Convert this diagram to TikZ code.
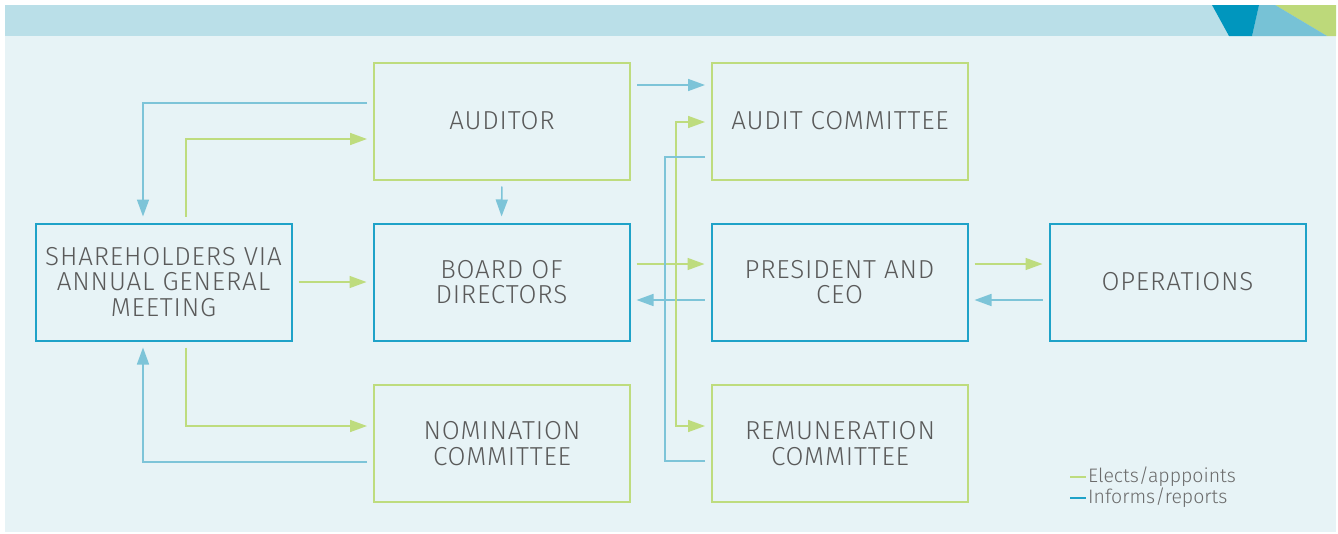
\documentclass[tikz,border=0pt]{standalone}
\usepackage{fontspec}
\setmainfont{Fira Sans Light}[LetterSpace=3.2]
\newfontfamily\legfont{Fira Sans Light}
\usetikzlibrary{arrows.meta,calc}
\definecolor{panelbg}{HTML}{E7F3F6}
\definecolor{barbg}{HTML}{BADFE8}
\definecolor{gline}{HTML}{BEDC7E}
\definecolor{bline}{HTML}{7DC4D8}
\definecolor{bbox}{HTML}{1FA2C8}
\definecolor{txt}{HTML}{5A5A5A}
\definecolor{darkblue}{HTML}{0096BE}
\definecolor{midblue}{HTML}{77C2D6}
\definecolor{greentri}{HTML}{BDD97A}
\tikzset{
  box/.style={minimum width=256pt, minimum height=117pt, inner sep=0pt, align=center,
    font=\fontsize{26}{25.5}\selectfont, text=txt, line width=2pt},
  gbox/.style={box, draw=gline},
  bbx/.style={box, draw=bbox},
  conn/.style={line width=1.6pt, shorten >=6pt, shorten <=6pt},
  gconn/.style={conn, draw=gline, -{Triangle[length=17pt,width=12pt]}},
  bconn/.style={conn, draw=bline, -{Triangle[length=17pt,width=12pt]}},
  gplain/.style={line width=1.6pt, draw=gline},
  bplain/.style={line width=1.6pt, draw=bline},
  legtext/.style={anchor=west, inner sep=0pt, text=txt!90, font=\legfont\fontsize{19.5}{20}\selectfont},
}
\begin{document}
\begin{tikzpicture}[x=1pt,y=-1pt]
\useasboundingbox (0,0) rectangle (1338,533);
% background
\fill[panelbg] (5,5) rectangle (1336,532);
\fill[barbg] (5,5) rectangle (1336,36);
\fill[greentri] (1275,5) -- (1336,5) -- (1336,36) -- (1327,36) -- cycle;
\fill[midblue] (1259,5) -- (1275,5) -- (1327,36) -- (1252,36) -- cycle;
\fill[darkblue] (1212,5) -- (1259,5) -- (1252,36) -- (1229,36) -- cycle;
% nodes
\node[gbox] (aud) at (502,121) {AUDITOR};
\node[gbox] (ac) at (840,121) {AUDIT COMMITTEE};
\node[bbx] (sh) at (163.5,282) {SHAREHOLDERS VIA\\ANNUAL GENERAL\\MEETING};
\node[bbx] (bd) at (501.5,282) {BOARD OF\\DIRECTORS};
\node[bbx] (pr) at (839.5,282) {PRESIDENT AND\\CEO};
\node[bbx] (op) at (1177.5,282) {OPERATIONS};
\node[gbox] (nom) at (502,443.5) {NOMINATION\\COMMITTEE};
\node[gbox] (rem) at (840,443.5) {REMUNERATION\\COMMITTEE};
% left side connectors
\draw[bconn] (aud.west |- 0,103) -| (sh.north -| 143,0);
\draw[gconn] (sh.north -| 186,0) |- (aud.west |- 0,139);
\draw[gconn] (sh.east) -- (bd.west);
\draw[bconn] (aud.south) -- (bd.north);
\draw[gconn] (sh.south -| 186,0) |- (nom.west |- 0,426);
\draw[bconn] (nom.west |- 0,462) -| (sh.south -| 143,0);
% middle connectors
\draw[bconn] (aud.east |- 0,85) -- (ac.west |- 0,85);
\draw[gconn] (bd.east |- 0,264) -- (pr.west |- 0,264);
\draw[bconn] (pr.west |- 0,300) -- (bd.east |- 0,300);
\coordinate (gj) at (676,264);
\coordinate (bj) at (665,300);
\draw[gconn, shorten <=0pt] (gj) |- (ac.west |- 0,122);
\draw[gconn, shorten <=0pt] (gj) |- (rem.west |- 0,426);
\draw[bplain, shorten <=6pt] (ac.west |- 0,157) -| (bj);
\draw[bplain, shorten <=6pt] (rem.west |- 0,461) -| (bj);
% right connectors
\draw[gconn] (pr.east |- 0,264) -- (op.west |- 0,264);
\draw[bconn] (op.west |- 0,300) -- (pr.east |- 0,300);
% legend
\draw[gplain, line width=1.2pt] (1070,477) -- (1086,477);
\draw[draw=bbox, line width=1.6pt] (1070,498) -- (1086,498);
\node[legtext] (l1) at (1088,477) {Elects/apppoints};
\node[legtext] (l2) at (1088,498) {Informs/reports};
\end{tikzpicture}
\end{document}
